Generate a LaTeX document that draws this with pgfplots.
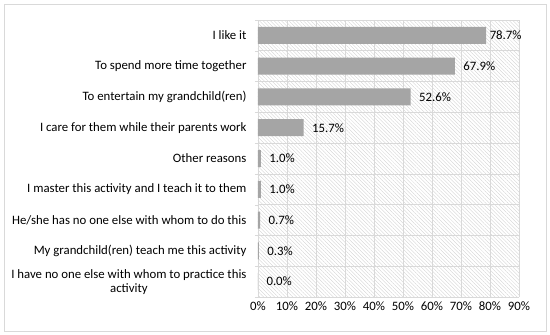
\documentclass[border=0pt]{standalone}
\usepackage{pgfplots}
\pgfplotsset{compat=1.18}
\usepackage{fontspec}
\setmainfont{Carlito}
\usetikzlibrary{patterns.meta}
\definecolor{barc}{HTML}{A5A5A5}
\definecolor{gridc}{HTML}{D9D9D9}
\definecolor{hatchc}{HTML}{D0D0D0}
\begin{document}
\begin{tikzpicture}[x=1pt,y=1pt]
\useasboundingbox (0,0) rectangle (550,335);
\draw[gridc, line width=0.8pt] (4,4) rectangle (546,331);
\begin{axis}[
  at={(258pt,38pt)}, anchor=south west,
  scale only axis, width=261pt, height=277pt,
  xbar, bar width=17pt,
  xmin=0, xmax=90,
  ymin=-0.5, ymax=8.5,
  xtick={0,10,...,90},
  xticklabel={\pgfmathprintnumber{\tick}\%},
  /pgf/number format/assume math mode=true,
  ytick={0,...,8},
  yticklabels={{I have no one else with whom to practice this\\activity},
    {My grandchild(ren) teach me this activity},
    {He/she has no one else with whom to do this},
    {I master this activity and I teach it to them},
    {Other reasons},
    {I care for them while their parents work},
    {To entertain my grandchild(ren)},
    {To spend more time together},
    {I like it}},
  yticklabel style={align=center, xshift=-8pt, font=\fontsize{12.8}{14}\selectfont},
  xticklabel style={font=\fontsize{12.8}{14}\selectfont, yshift=-1pt},
  minor ytick={-0.5,0.5,...,8.5},
  major tick length=0pt,
  minor tick length=3pt,
  tick align=outside,
  minor tick style={gridc},
  xmajorgrids, yminorgrids,
  grid style={gridc, line width=0.6pt},
  minor grid style={gridc, line width=0.6pt},
  axis line style={gridc, line width=0.6pt},
  axis x line*=bottom, axis y line*=left,
  axis background/.style={pattern={Lines[angle=-45,distance=2.6pt,line width=0.35pt]}, pattern color=hatchc},
  visualization depends on={x \as \xval},
  nodes near coords={\pgfmathprintnumber[fixed,fixed zerofill,precision=1]{\pgfplotspointmeta}\%},
  nodes near coords style={anchor=west, xshift={(\xval>75 ? 0 : 5)*1pt}, font=\fontsize{12.8}{14}\selectfont, text=black},
]
\addplot[draw=none, fill=barc] coordinates {(0.0,0) (0.3,1) (0.7,2) (1.0,3) (1.0,4) (15.7,5) (52.6,6) (67.9,7) (78.7,8)};
\end{axis}
\end{tikzpicture}
\end{document}
